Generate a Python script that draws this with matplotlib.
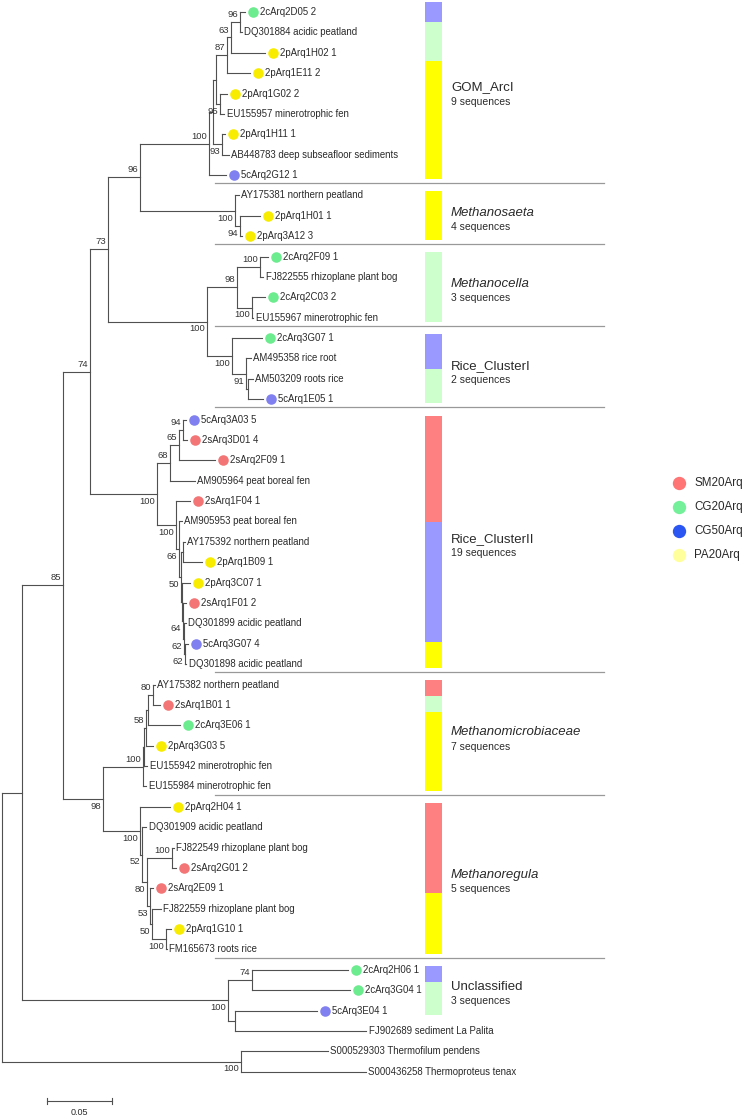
import matplotlib
matplotlib.use('Agg')
import matplotlib.pyplot as plt

plt.rcParams['font.family'] = ['Liberation Sans', 'DejaVu Sans']

# tree in newick form, branch lengths in substitutions per site, bootstrap after ")"
tree_newick = (
    "(((((("
    "((((((2cArq2D05_2:0.0038,DQ301884_acidic_peatland:0.0015)96:0.0069,"
    "2pArq1H02_1:0.0262)63:0.0031,2pArq1E11_2:0.0177)87:0.0085,"
    "(2pArq1G02_2:0.0054,EU155957_minerotrophic_fen:0.0031)95:0.0031):0.0023,"
    "(2pArq1H11_1:0.0023,AB448783_deep_subseafloor_sediments:0.0054)93:0.0069):0.0031,"
    "5cArq2G12_1:0.0131)100:0.0531,"
    "(AY175381_northern_peatland:0.0031,(2pArq1H01_1:0.0154,2pArq3A12_3:0.0015)94:0.0038)100:0.0731"
    ")96:0.0246,"
    "(((2cArq2F09_1:0.0062,FJ822555_rhizoplane_plant_bog:0.0023)100:0.0177,"
    "(2cArq2C03_2:0.0100,EU155967_minerotrophic_fen:0.0008)100:0.0115)98:0.0231,"
    "(2cArq3G07_1:0.0231,(AM495358_rice_root:0.0038,"
    "(AM503209_roots_rice:0.0038,5cArq1E05_1:0.0115):0.0015)91:0.0108)100:0.0192)100:0.0762"
    ")73:0.0138,"
    "((((5cArq3A03_5:0.0023,2sArq3D01_4:0.0031)94:0.0031,2sArq2F09_1:0.0277)65:0.0069,"
    "AM905964_peat_boreal_fen:0.0192)68:0.0100,"
    "(2sArq1F04_1:0.0108,(AM905953_peat_boreal_fen:0.0023,"
    "((AY175392_northern_peatland:0.0015,2pArq1B09_1:0.0146):0.0015,"
    "(2pArq3C07_1:0.0062,(2sArq1F01_2:0.0023,(DQ301899_acidic_peatland:0.0015,"
    "(5cArq3G07_4:0.0023,DQ301898_acidic_peatland:0.0008)62:0.0008)62:0.0008)64:0.0008)"
    ":0.0008)50:0.0015)66:0.0023)100:0.0146)100:0.0515"
    ")74:0.0208,"
    "((((((AY175382_northern_peatland:0.0015,2sArq1B01_1:0.0054)80:0.0038,"
    "2cArq3E06_1:0.0246):0.0015,2pArq3G03_5:0.0054)58:0.0015,"
    "EU155942_minerotrophic_fen:0.0023):0.0008,EU155984_minerotrophic_fen:0.0023)100:0.0308,"
    "(2pArq2H04_1:0.0231,(DQ301909_acidic_peatland:0.0031,"
    "((FJ822549_rhizoplane_plant_bog:0.0015,2sArq2G01_2:0.0031)100:0.0192,"
    "(2sArq2E09_1:0.0023,(FJ822559_rhizoplane_plant_bog:0.0069,"
    "(2pArq1G10_1:0.0038,FM165673_roots_rice:0.0008)100:0.0108)50:0.0015)53:0.0023)80:0.0038)"
    "52:0.0015)100:0.0285)98:0.0308"
    ")85:0.0315,"
    "((2cArq2H06_1:0.0738,2cArq3G04_1:0.0754)74:0.0185,"
    "(5cArq3E04_1:0.0631,FJ902689_sediment_La_Palita:0.1008):0.0054)100:0.1585"
    "):0.0154,"
    "(S000529303_Thermofilum_pendens:0.0669,S000436258_Thermoproteus_tenax:0.0962)100:0.1838"
    ");"
)

# sample groups (clone name prefix -> library)
group_names = ['SM20Arq', 'CG20Arq', 'CG50Arq', 'PA20Arq']
group_prefix = ['2s', '2c', '5c', '2p']
dot_colors = ['#f47575', '#6cec8e', '#8080f0', '#f8ec00']
bar_colors = ['#ff8080', '#ccffcc', '#9999ff', '#ffff00']
legend_colors = ['#ff7474', '#74f09a', '#2c56f2', '#ffff9c']
bar_order = [0, 2, 1, 3]

# clades, top to bottom, with number of tree rows each
clade_names = ['GOM_ArcI', 'Methanosaeta', 'Methanocella', 'Rice_ClusterI',
               'Rice_ClusterII', 'Methanomicrobiaceae', 'Methanoregula', 'Unclassified']
clade_italic = [False, True, True, False, False, True, True, False]
clade_rows = [9, 3, 4, 4, 13, 6, 8, 3]

scale_len = 0.05


def parse_newick(s):
    pos = 0

    def node():
        nonlocal pos
        kids = []
        if s[pos] == '(':
            pos += 1
            kids.append(node())
            while s[pos] == ',':
                pos += 1
                kids.append(node())
            pos += 1
        start = pos
        while s[pos] not in ':,);':
            pos += 1
        label = s[start:pos]
        length = 0.0
        if s[pos] == ':':
            pos += 1
            start = pos
            while s[pos] not in ',);':
                pos += 1
            length = float(s[start:pos])
        return {'label': label, 'length': length, 'children': kids}

    return node()


def layout(n, x0, leaves):
    n['x'] = x0 + n['length']
    if n['children']:
        for c in n['children']:
            layout(c, n['x'], leaves)
        n['y'] = (n['children'][0]['y'] + n['children'][-1]['y']) / 2
    else:
        n['y'] = len(leaves)
        leaves.append(n)


W, H = 747, 1115
UNIT_PX = 1300.0   # pixels per substitution unit
ROW_PX = 20.38     # pixels per leaf row
px = 1 / UNIT_PX
py = 1 / ROW_PX

fig = plt.figure(figsize=(W / 100, H / 100), dpi=100)
ax = fig.add_axes([0, 0, 1, 1])
ax.axis('off')
ax.set_xlim(-2 * px, (W - 2) * px)
ax.set_ylim((H - 12) * py, -12 * py)

LINE = '#505050'
TXT = '#2a2a2a'

root = parse_newick(tree_newick)
leaves = []
layout(root, 0.0, leaves)


def draw(n):
    kids = n['children']
    if not kids:
        return
    ax.plot([n['x'], n['x']], [kids[0]['y'], kids[-1]['y']], color=LINE, lw=0.8)
    for i, c in enumerate(kids):
        ax.plot([n['x'], c['x']], [c['y'], c['y']], color=LINE, lw=0.8)
        if c['children'] and c['label']:
            dy = -0.36 if i == 0 else 0.36
            ax.text(c['x'] - 2 * px, c['y'] + dy, c['label'], ha='right', va='center',
                    fontsize=6.8, color='#333333')
        draw(c)


draw(root)


def group_of(name):
    for g, p in enumerate(group_prefix):
        if name.startswith(p):
            return g
    return None


for lf in leaves:
    name = lf['label'].replace('_', ' ')
    g = group_of(name)
    if g is not None:
        ax.plot(lf['x'] + 8 * px, lf['y'], 'o', ms=7.6, color=dot_colors[g], mec='none')
        ax.text(lf['x'] + 15 * px, lf['y'], name, va='center', fontsize=6.9, color=TXT)
    else:
        ax.text(lf['x'] + 2.5 * px, lf['y'], name, va='center', fontsize=6.9, color=TXT)

# clade bars, separators and labels
BAR_X = 425 * px - 2 * px
BAR_W = 17 * px
SEP_X0 = 213 * px
SEP_X1 = 602 * px
LAB_X = 449 * px
start = 0
for k, nm in enumerate(clade_names):
    end = start + clade_rows[k] - 1
    top = start - 0.5 + (0.3 if k > 0 else 0.0)
    bot = end + 0.5 - 0.3
    counts = [0, 0, 0, 0]
    for lf in leaves[start:end + 1]:
        g = group_of(lf['label'])
        if g is not None:
            counts[g] += int(lf['label'].split('_')[-1])
    total = sum(counts)
    y = top
    for g in bar_order:
        if counts[g]:
            h = (bot - top) * counts[g] / total
            ax.bar(BAR_X, h, width=BAR_W, bottom=y, align='edge', color=bar_colors[g], lw=0)
            y += h
    if k < len(clade_names) - 1:
        sy = end + 0.5 - 0.1
        ax.plot([SEP_X0, SEP_X1], [sy, sy], color='#999999', lw=0.9)
    mid = (top + bot) / 2
    ax.text(LAB_X, mid - 0.15, nm, fontsize=9.5, color=TXT, va='center',
            style='italic' if clade_italic[k] else 'normal')
    ax.text(LAB_X, mid + 0.55, f'{total} sequences', fontsize=7.5, color=TXT, va='center')
    start = end + 1

# legend
for g, gn in enumerate(group_names):
    ly = (483 + 24 * g - 12) * py
    ax.plot(677 * px, ly, 'o', ms=9.6, color=legend_colors[g], mec='none')
    ax.text(692 * px, ly, gn, va='center', fontsize=8.4, color=TXT)

# scale bar
sx = 45 * px
sy = (1101 - 12) * py
ax.plot([sx, sx + scale_len], [sy, sy], color=LINE, lw=0.8)
for xx in (sx, sx + scale_len):
    ax.plot([xx, xx], [sy - 3 * py, sy + 3 * py], color=LINE, lw=0.8)
ax.text(sx + scale_len / 2, sy + 0.55, f'{scale_len:.2f}', ha='center', va='center',
        fontsize=6.5, color=TXT)

fig.savefig('out.png', dpi=100)
